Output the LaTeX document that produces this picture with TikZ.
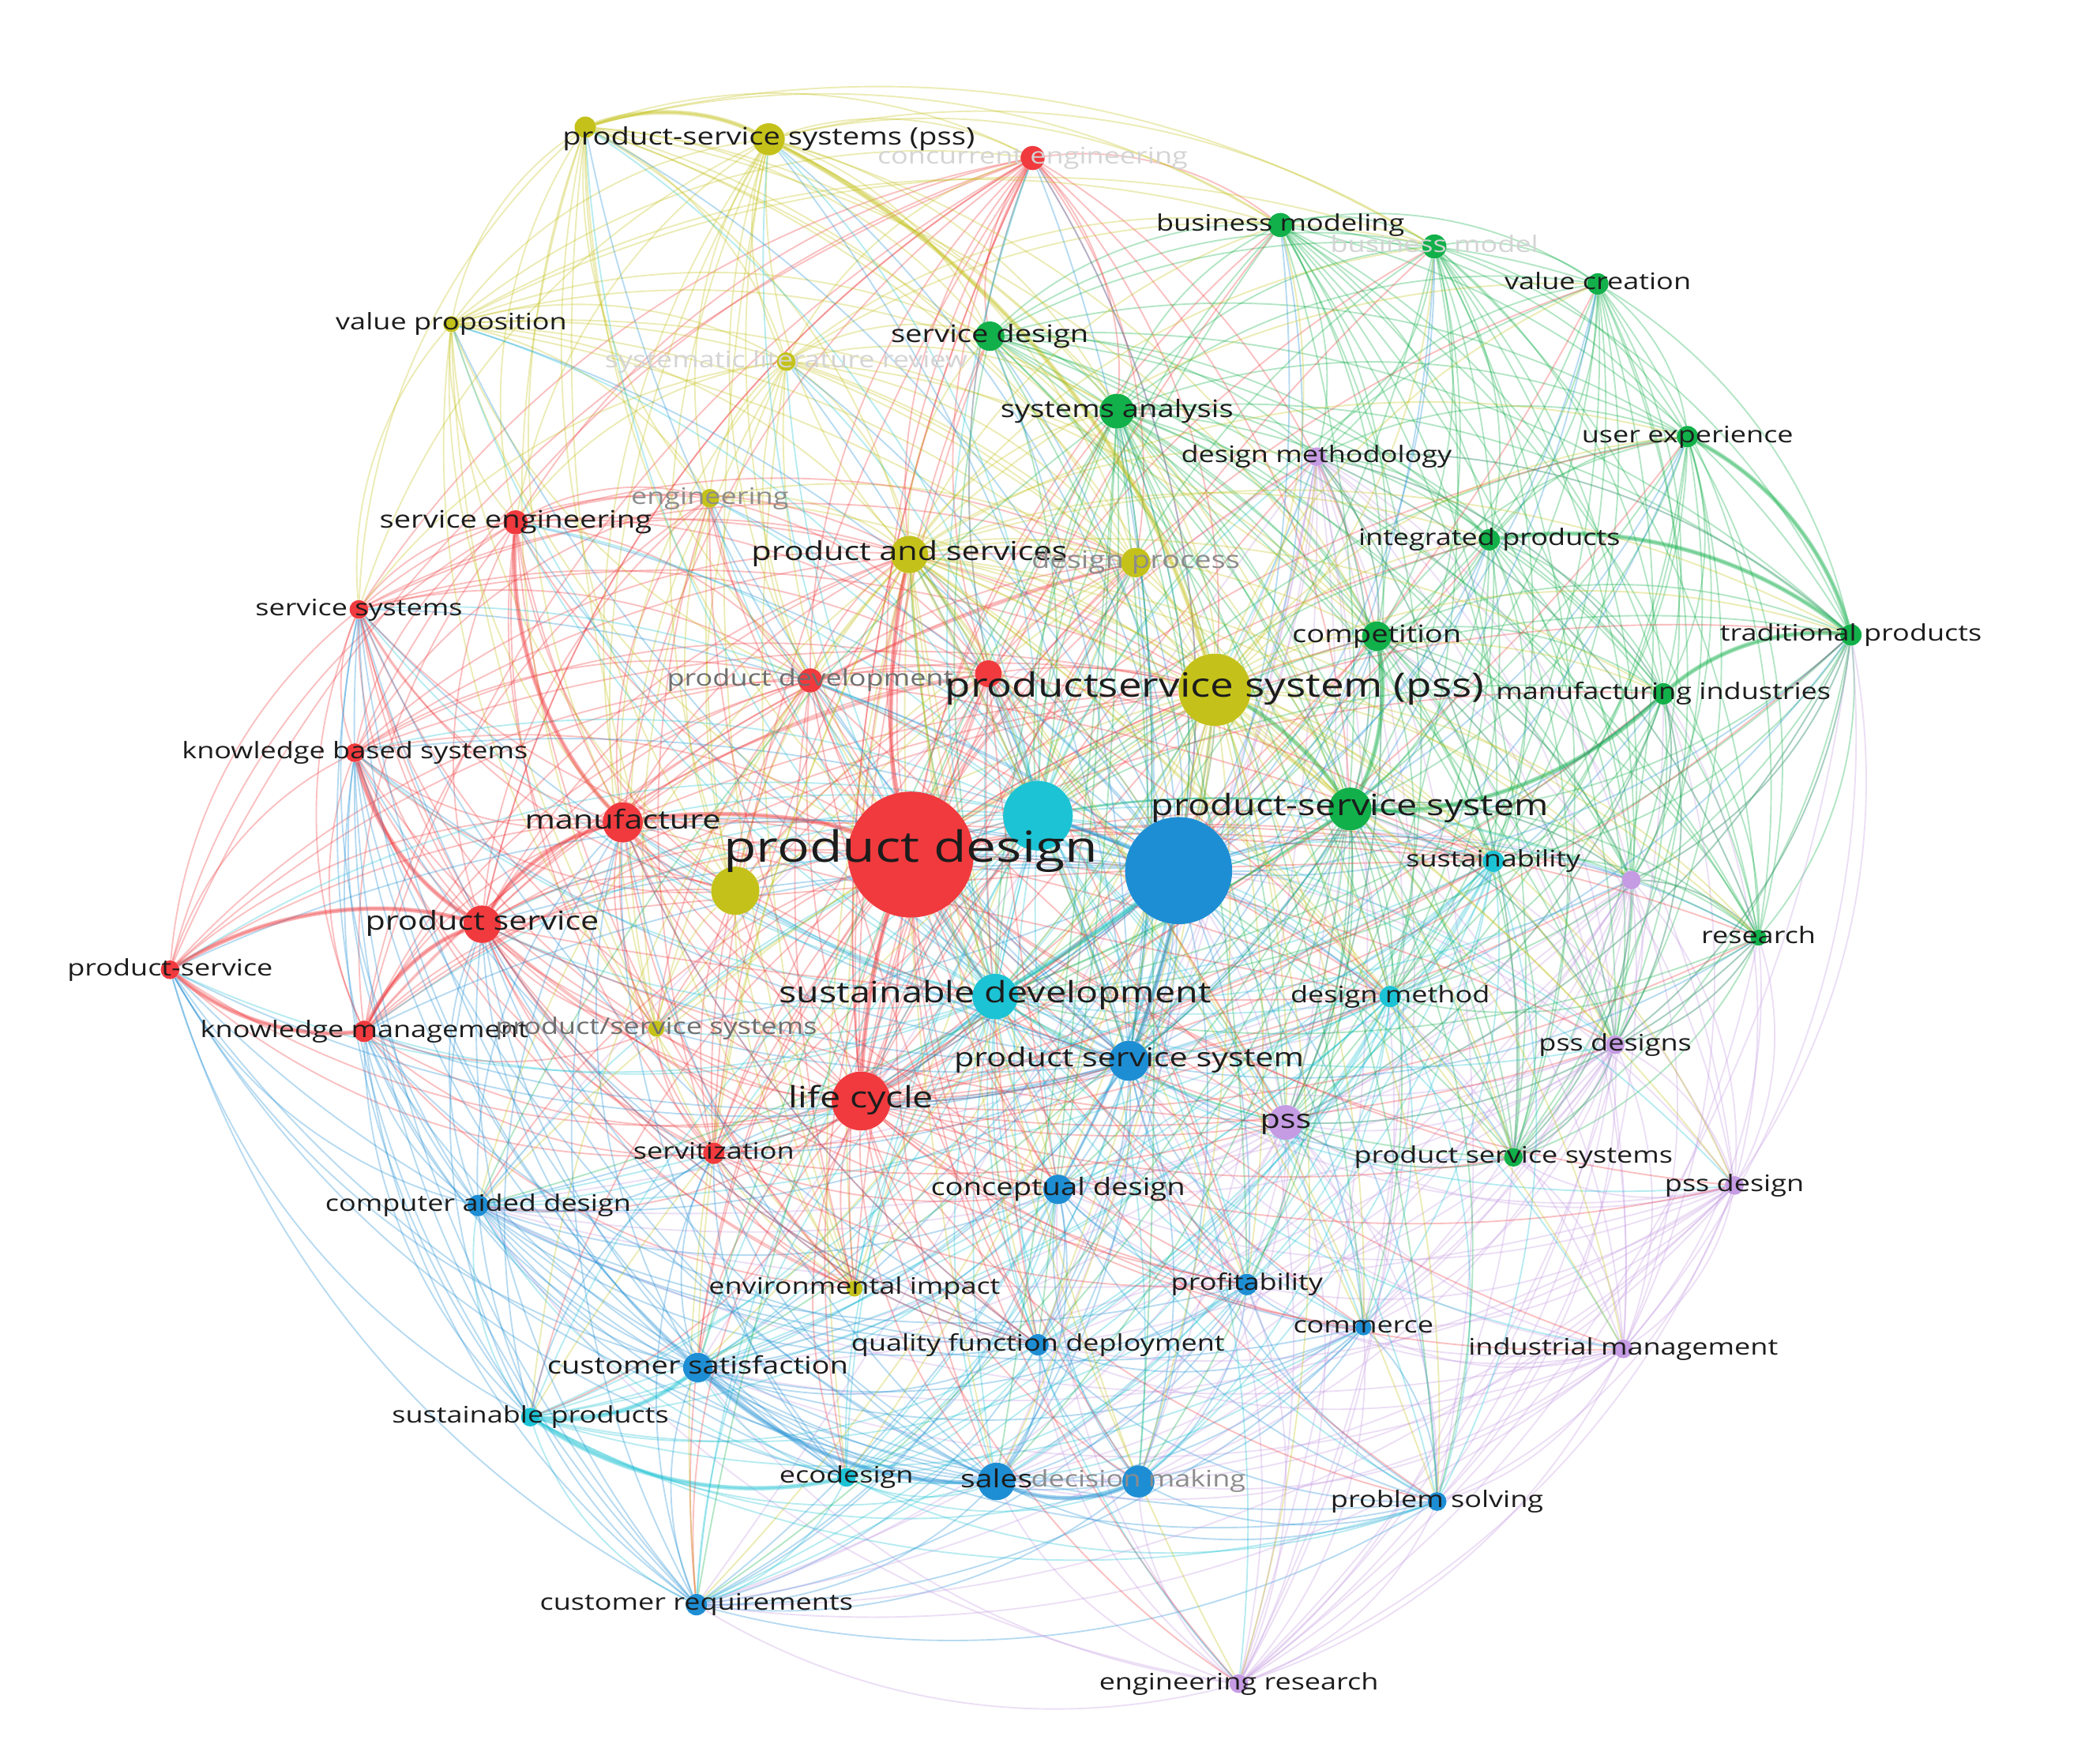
\documentclass[tikz,border=0pt]{standalone}
\usepackage{fontspec}
\setmainfont{Open Sans}[FakeStretch=1.25]
\usetikzlibrary{calc}
\pgfdeclarelayer{bg}\pgfdeclarelayer{edges}\pgfdeclarelayer{labels}
\pgfsetlayers{bg,edges,main,labels}
\definecolor{nR}{HTML}{F03A3E}
\definecolor{nY}{HTML}{C4C21A}
\definecolor{nG}{HTML}{12B04A}
\definecolor{nB}{HTML}{1E8ED4}
\definecolor{nC}{HTML}{1CC3D4}
\definecolor{nP}{HTML}{C59BE3}
\definecolor{txt}{HTML}{1C1C1C}
\definecolor{fadeA}{HTML}{6E6E6E}
\definecolor{fadeB}{HTML}{8C8C8C}
\definecolor{fadeC}{HTML}{D4D4D4}
\tikzset{
 arcE/.style={to path={let \p1=(\tikztostart),\p2=(\tikztotarget),
   \n1={2*((((\x2-\x1)/100)*((-670-(\y1))/100)-((\y2-\y1)/100)*((780-(\x1))/100))>0)-1},
   \n2={0.14*min(1,veclen((\x1+\x2)/2-780,(\y1+\y2)/2+670)/330)*(\n1)} in
   .. controls ({\x1+0.33*(\x2-\x1)+(\n2)*(\y2-\y1)},{\y1+0.33*(\y2-\y1)-(\n2)*(\x2-\x1)})
   and ({\x1+0.67*(\x2-\x1)+(\n2)*(\y2-\y1)},{\y1+0.67*(\y2-\y1)-(\n2)*(\x2-\x1)}) .. (\tikztotarget)}},
 lnbase/.style={arcE,line width=1.1pt,draw opacity=0.32},
 lnR/.style={lnbase,draw=nR},
 lnY/.style={lnbase,draw=nY},
 lnG/.style={lnbase,draw=nG},
 lnB/.style={lnbase,draw=nB},
 lnC/.style={lnbase,draw=nC},
 lnP/.style={lnbase,draw=nP},
 heavy/.style={line width=3.2pt,draw opacity=0.42},
 kwdot/.style={circle,inner sep=0pt,draw=none},
 lab/.style={anchor=mid,inner sep=0pt,text=txt,yshift={-0.1pt*#1},font=\fontsize{#1}{#1}\selectfont}
}
\newcommand\clique[2]{\foreach \ea [count=\ci] in #2 {\foreach \eb [count=\cj] in #2 {\ifnum\cj>\ci\relax\draw[#1] (\ea) to (\eb);\fi}}}
\newcommand\biclique[3]{\foreach \ea in #2 {\foreach \eb in #3 {\draw[#1] (\ea) to (\eb);}}}
\newcommand\kw[5]{\node[kwdot,minimum size=#4pt,fill=#5] (#1) at (#2,#3) {};}
\def\Rl{pd,lc,mf,ps,se,ss,kbs,psv,km,sv,pdev,ce,rx}
\def\Yl{pssY,psspss,yx,vp,slr,eng,pas,dp,yz,pssys,ei}
\def\Gl{bmg,bm,vc,sd,sa,ue,ip,comp,tp,mi,psG,res,pssG}
\def\Cl{cx,sdev,sus,dm,sp,eco}
\def\Bl{bx,pssB,cd,cad,prof,com,qfd,cs,sales,dmk,pslv,cr}
\def\Pl{dmeth,px,pssd2,pss,pssd,im,er}
\def\Rcore{pd,lc,mf,ps,se,km,pdev,rx,sv,ss,kbs}
\def\Ycore{pssY,pas,yz,eng,pssys,ei,dp}
\def\Ytop{psspss,yx,vp,slr}
\def\Rtop{ce,se,ss,pdev,mf,pd}
\def\ceL{ce}
\def\ceT{sd,sa,bmg,pas,dp,pssY,comp,psG,bx,cx,lc,ps}
\def\Gtop{bmg,bm,sd,sa,comp,psG}
\def\Gright{mi,res,pssG,tp,psG,comp}
\def\Pcore{pss,dmeth,px,pssd2}
\def\Csub{sus,dm,cx,sdev}
\def\Rhub{pd,lc}
\def\Bhub{bx,pssB}
\def\Chub{cx,sdev}
\def\Yhub{pssY,pas}
\def\Ghub{psG,sa}
\def\Rleft{psv,km,kbs,ss,ps,mf,sv}
\def\Bleft{cad,cs,cr,sp,eco,sales,qfd}
\def\Rmid{mf,ps,sv,rx,pdev}
\def\Cent{cd,pss,dm,sus,prof,qfd}
\begin{document}
\begin{tikzpicture}[x=1pt,y=-1pt]
\useasboundingbox (0,0) rectangle (1568,1313);
\begin{pgfonlayer}{bg}
\fill[white] (0,0) rectangle (1568,1313);
\end{pgfonlayer}
% red
\kw{pd}{680}{638}{94}{nR}
\kw{lc}{643}{822}{44}{nR}
\kw{mf}{465}{614}{30}{nR}
\kw{ps}{360}{690}{28}{nR}
\kw{se}{385}{390}{18}{nR}
\kw{ss}{268}{455}{14}{nR}
\kw{kbs}{265}{562}{14}{nR}
\kw{psv}{127}{724}{14}{nR}
\kw{km}{272}{770}{16}{nR}
\kw{sv}{533}{861}{16}{nR}
\kw{pdev}{605}{508}{18}{nR}
\kw{ce}{771}{118}{18}{nR}
\kw{rx}{738}{503}{20}{nR}
% yellow
\kw{pssY}{907}{515}{54}{nY}
\kw{psspss}{574}{104}{24}{nY}
\kw{yx}{437}{95}{16}{nY}
\kw{vp}{337}{242}{12}{nY}
\kw{slr}{587}{270}{14}{nY}
\kw{eng}{530}{372}{14}{nY}
\kw{pas}{679}{414}{28}{nY}
\kw{dp}{848}{420}{22}{nY}
\kw{yz}{549}{665}{36}{nY}
\kw{pssys}{490}{768}{12}{nY}
\kw{ei}{638}{962}{12}{nY}
% green
\kw{bmg}{956}{168}{18}{nG}
\kw{bm}{1071}{184}{18}{nG}
\kw{vc}{1193}{212}{16}{nG}
\kw{sd}{739}{251}{22}{nG}
\kw{sa}{834}{307}{26}{nG}
\kw{ue}{1260}{326}{16}{nG}
\kw{ip}{1112}{403}{16}{nG}
\kw{comp}{1028}{475}{22}{nG}
\kw{tp}{1382}{474}{16}{nG}
\kw{mi}{1242}{518}{16}{nG}
\kw{psG}{1008}{604}{32}{nG}
\kw{res}{1313}{700}{12}{nG}
\kw{pssG}{1130}{864}{14}{nG}
% cyan
\kw{cx}{775}{609}{52}{nC}
\kw{sdev}{743}{744}{34}{nC}
\kw{sus}{1115}{643}{16}{nC}
\kw{dm}{1038}{744}{16}{nC}
\kw{sp}{396}{1058}{14}{nC}
\kw{eco}{632}{1103}{14}{nC}
% blue
\kw{bx}{880}{650}{80}{nB}
\kw{pssB}{843}{792}{30}{nB}
\kw{cd}{790}{888}{22}{nB}
\kw{cad}{357}{900}{16}{nB}
\kw{prof}{931}{959}{16}{nB}
\kw{com}{1018}{991}{12}{nB}
\kw{qfd}{775}{1004}{16}{nB}
\kw{cs}{521}{1021}{22}{nB}
\kw{sales}{744}{1106}{28}{nB}
\kw{dmk}{850}{1106}{24}{nB}
\kw{pslv}{1073}{1121}{14}{nB}
\kw{cr}{520}{1198}{16}{nB}
% purple
\kw{dmeth}{983}{341}{14}{nP}
\kw{px}{1218}{657}{14}{nP}
\kw{pssd2}{1206}{780}{14}{nP}
\kw{pss}{960}{838}{26}{nP}
\kw{pssd}{1295}{885}{14}{nP}
\kw{im}{1212}{1007}{14}{nP}
\kw{er}{925}{1257}{14}{nP}

\begin{pgfonlayer}{edges}
\clique{lnR}{\Rl}
\clique{lnY}{\Yl}
\clique{lnG}{\Gl}
\clique{lnB}{\Bl}
\clique{lnC}{\Cl}
\clique{lnP}{\Pl}
\biclique{lnR}{\Rcore}{\Ycore}
\biclique{lnY}{\Ytop}{\Rtop}
\biclique{lnR}{\ceL}{\ceT}
\biclique{lnY}{\Ytop}{\Gtop}
\biclique{lnP}{\Pl}{\Gright}
\biclique{lnG}{\Gl}{\Pcore}
\biclique{lnP}{\Pl}{\Bl}
\biclique{lnC}{\Cl}{\Bl}
\biclique{lnG}{\Gl}{\Csub}
\biclique{lnR}{\Rhub}{\Gl}
\biclique{lnR}{\Rhub}{\Bl}
\biclique{lnR}{\Rhub}{\Pl}
\biclique{lnR}{\Rhub}{\Cl}
\biclique{lnB}{\Bhub}{\Rl}
\biclique{lnB}{\Bhub}{\Yl}
\biclique{lnB}{\Bhub}{\Gl}
\biclique{lnC}{\Chub}{\Rl}
\biclique{lnC}{\Chub}{\Yl}
\biclique{lnC}{\Chub}{\Pl}
\biclique{lnY}{\Yhub}{\Gl}
\biclique{lnY}{\Yhub}{\Bl}
\biclique{lnY}{\Yhub}{\Cl}
\biclique{lnY}{\Yhub}{\Pl}
\biclique{lnG}{\Ghub}{\Bl}
\biclique{lnB}{\Bleft}{\Rleft}
\biclique{lnR}{\Rmid}{\Cent}
% strong links
\draw[lnR,heavy] (pd) to (mf);
\draw[lnR,heavy] (mf) to (ps);
\draw[lnR,heavy] (ps) to (psv);
\draw[lnR,heavy] (ps) to (km);
\draw[lnR,heavy] (km) to (psv);
\draw[lnR,heavy] (kbs) to (ps);
\draw[lnR,heavy] (pd) to (lc);
\draw[lnR,heavy] (se) to (mf);
\draw[lnR,heavy] (pd) to (pas);
\draw[lnB,heavy] (bx) to (pssB);
\draw[lnB,heavy] (bx) to (cx);
\draw[lnC,heavy] (sdev) to (bx);
\draw[lnG,heavy] (psG) to (pssY);
\draw[lnG,heavy] (psG) to (comp);
\draw[lnG,heavy] (mi) to (tp);
\draw[lnG,heavy] (tp) to (ip);
\draw[lnG,heavy] (tp) to (ue);
\draw[lnG,heavy] (psG) to (mi);
\draw[lnC,heavy] (cs) to (sp);
\draw[lnC,heavy] (sp) to (eco);
\draw[lnB,heavy] (sales) to (dmk);
\draw[lnB,heavy] (sales) to (cs);
\draw[lnY,heavy] (psspss) to (yx);
\draw[lnY,heavy] (psspss) to (pssY);
\end{pgfonlayer}

\begin{pgfonlayer}{labels}
\node[lab=32] (pd-l) at (pd) {product design};
\node[lab=22] (lc-l) at (lc) {life cycle};
\node[lab=19.5] (mf-l) at (mf) {manufacture};
\node[lab=19.5] (ps-l) at (ps) {product service};
\node[lab=18] (se-l) at (se) {service engineering};
\node[lab=17] (ss-l) at (ss) {service systems};
\node[lab=17] (kbs-l) at (kbs) {knowledge based systems};
\node[lab=17] (psv-l) at (psv) {product-service};
\node[lab=17] (km-l) at (km) {knowledge management};
\node[lab=17] (sv-l) at (sv) {servitization};
\node[lab=17,text=fadeA] (pdev-l) at (pdev) {product development};
\node[lab=17,text=fadeC] (ce-l) at (ce) {concurrent engineering};
\node[lab=25] (pssY-l) at (pssY) {productservice system (pss)};
\node[lab=18] (psspss-l) at (psspss) {product-service systems (pss)};
\node[lab=17] (vp-l) at (vp) {value proposition};
\node[lab=17,text=fadeC] (slr-l) at (slr) {systematic literature review};
\node[lab=17,text=fadeB] (eng-l) at (eng) {engineering};
\node[lab=19.5] (pas-l) at (pas) {product and services};
\node[lab=18,text=fadeB] (dp-l) at (dp) {design process};
\node[lab=17,text=fadeA] (pssys-l) at (pssys) {product/service systems};
\node[lab=17] (ei-l) at (ei) {environmental impact};
\node[lab=17] (bmg-l) at (bmg) {business modeling};
\node[lab=17,text=fadeC] (bm-l) at (bm) {business model};
\node[lab=17] (vc-l) at (vc) {value creation};
\node[lab=18] (sd-l) at (sd) {service design};
\node[lab=18] (sa-l) at (sa) {systems analysis};
\node[lab=17] (ue-l) at (ue) {user experience};
\node[lab=17] (ip-l) at (ip) {integrated products};
\node[lab=18] (comp-l) at (comp) {competition};
\node[lab=17] (tp-l) at (tp) {traditional products};
\node[lab=17] (mi-l) at (mi) {manufacturing industries};
\node[lab=22] (psG-l) at (psG) {product-service system};
\node[lab=17] (res-l) at (res) {research};
\node[lab=17] (pssG-l) at (pssG) {product service systems};
\node[lab=22] (sdev-l) at (sdev) {sustainable development};
\node[lab=17] (sus-l) at (sus) {sustainability};
\node[lab=17] (dm-l) at (dm) {design method};
\node[lab=17] (sp-l) at (sp) {sustainable products};
\node[lab=17] (eco-l) at (eco) {ecodesign};
\node[lab=19.5] (pssB-l) at (pssB) {product service system};
\node[lab=18] (cd-l) at (cd) {conceptual design};
\node[lab=17] (cad-l) at (cad) {computer aided design};
\node[lab=17] (prof-l) at (prof) {profitability};
\node[lab=17] (com-l) at (com) {commerce};
\node[lab=17] (qfd-l) at (qfd) {quality function deployment};
\node[lab=18] (cs-l) at (cs) {customer satisfaction};
\node[lab=18.5] (sales-l) at (sales) {sales};
\node[lab=17,text=fadeB] (dmk-l) at (dmk) {decision making};
\node[lab=17] (pslv-l) at (pslv) {problem solving};
\node[lab=17] (cr-l) at (cr) {customer requirements};
\node[lab=17] (dmeth-l) at (dmeth) {design methodology};
\node[lab=17] (pssd2-l) at (pssd2) {pss designs};
\node[lab=19.5] (pss-l) at (pss) {pss};
\node[lab=17] (pssd-l) at (pssd) {pss design};
\node[lab=17] (im-l) at (im) {industrial management};
\node[lab=17] (er-l) at (er) {engineering research};
\end{pgfonlayer}
\end{tikzpicture}
\end{document}
